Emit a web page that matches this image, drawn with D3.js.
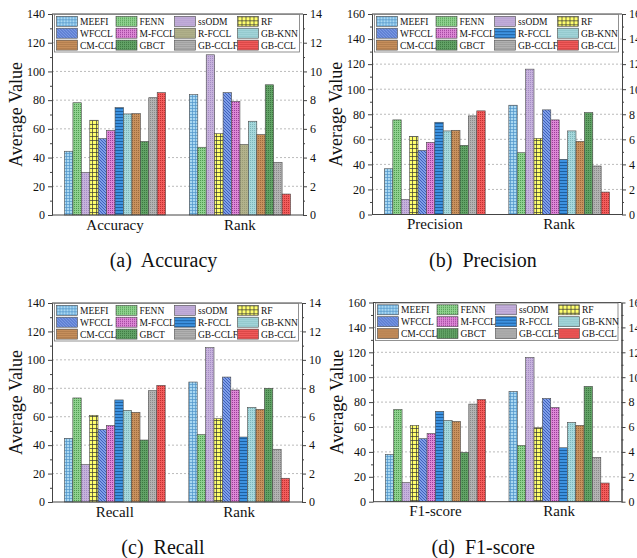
<!DOCTYPE html>
<meta charset="utf-8">
<style>
body { margin: 0; background: #fff; }
svg text { font-family: "Liberation Serif", "Times New Roman", serif; fill: #111; }
.axis path, .axis line { stroke: #444; }
.axis text { font-size: 12px; font-family: "Liberation Serif", "Times New Roman", serif; }
.grid line { stroke: #bbb; stroke-dasharray: 2,2; }
</style>

<svg id="fig" width="637" height="558"></svg>

<script src="https://d3js.org/d3.v7.min.js"></script>
<script>

// ---- data ----
var methods = ["MEEFI", "FENN", "ssODM", "RF", "WFCCL", "M-FCCL",
               "R-FCCL", "GB-KNN", "CM-CCL", "GBCT", "GB-CCLF", "GB-CCL"];

var accuracyValues  = [44.4, 78.2, 29.6, 66.0, 53.2, 58.8, 74.8, 70.4, 70.6, 51.2, 81.7, 85.2];
var accuracyRanks   = [8.38, 4.72, 11.16, 5.67, 8.52, 7.92, 4.91, 6.53, 5.60, 9.07, 3.66, 1.46];
var precisionValues = [36.5, 75.5, 12.0, 62.4, 51.2, 57.6, 73.6, 66.7, 67.2, 55.2, 78.7, 82.7];
var precisionRanks  = [8.72, 4.93, 11.60, 6.08, 8.35, 7.55, 4.40, 6.67, 5.84, 8.13, 3.87, 1.79];
var recallValues    = [44.8, 73.2, 26.3, 61.0, 51.1, 53.9, 71.8, 64.5, 63.1, 43.6, 78.3, 82.1];
var recallRanks     = [8.44, 4.74, 10.86, 5.86, 8.79, 7.88, 4.57, 6.66, 6.52, 8.00, 3.71, 1.67];
var f1Values        = [38.0, 74.1, 15.3, 61.3, 50.6, 54.8, 72.5, 65.3, 64.5, 39.6, 78.4, 82.1];
var f1Ranks         = [8.86, 4.52, 11.59, 5.94, 8.29, 7.57, 4.33, 6.37, 6.13, 9.26, 3.56, 1.50];

var leftTicks140  = [0, 20, 40, 60, 80, 100, 120, 140];
var rightTicks14  = [0, 2, 4, 6, 8, 10, 12, 14];
var leftTicks160  = [0, 20, 40, 60, 80, 100, 120, 140, 160];
var rightTicks16  = [0, 2, 4, 6, 8, 10, 12, 14, 16];

// ---- bar fill styles ----
var styles = {
  "MEEFI":   {bg: "#a9d8f2", fg: "#4f94c8", kind: "grid", s: 3},
  "FENN":    {bg: "#8fd18f", fg: "#4f9a4f", kind: "dots", s: 2},
  "ssODM":   {bg: "#c6b2dc", fg: "#a58cc4", kind: "dots", s: 2},
  "RF":      {bg: "#ffff6e", fg: "#333333", kind: "grid", s: 4},
  "WFCCL":   {bg: "#7f9fe8", fg: "#2f4fb0", kind: "diag", s: 3},
  "M-FCCL":  {bg: "#dd88d6", fg: "#9a3c98", kind: "dots", s: 2},
  "R-FCCL":  {bg: "#3d92e0", fg: "#1a5a9a", kind: "hline", s: 3},
  "GB-KNN":  {bg: "#a6d8dc", fg: "#7cb4ba", kind: "dots", s: 2},
  "CM-CCL":  {bg: "#c8915e", fg: "#9c6a3c", kind: "dots", s: 2},
  "GBCT":    {bg: "#62a266", fg: "#3c7840", kind: "dots", s: 2},
  "GB-CCLF": {bg: "#b3b3b3", fg: "#8a8a8a", kind: "dots", s: 2},
  "GB-CCL":  {bg: "#f25c5c", fg: "#c23030", kind: "dots", s: 2},
  "R-FCCL-olive": {bg: "#b2b28c", fg: "#9a9a76", kind: "dots", s: 2}
};

var svg = d3.select("#fig");
var defs = svg.append("defs");

function patId(name) { return "pat-" + name.replace(/[^a-zA-Z0-9]/g, ""); }

Object.keys(styles).forEach(function(name) {
  var st = styles[name];
  var p = defs.append("pattern")
    .attr("id", patId(name))
    .attr("patternUnits", "userSpaceOnUse")
    .attr("width", st.s).attr("height", st.s);
  p.append("rect").attr("width", st.s).attr("height", st.s).attr("fill", st.bg);
  if (st.kind === "grid") {
    p.append("path")
      .attr("d", "M0,0.5H" + st.s + "M0.5,0V" + st.s)
      .attr("stroke", st.fg).attr("stroke-width", 0.7);
  } else if (st.kind === "diag") {
    var s = st.s;
    p.append("path")
      .attr("d", "M0,0L" + s + "," + s + "M-1," + (s - 1) + "L1," + (s + 1) + "M" + (s - 1) + ",-1L" + (s + 1) + ",1")
      .attr("stroke", st.fg).attr("stroke-width", 0.8);
  } else if (st.kind === "hline") {
    p.append("path")
      .attr("d", "M0,0.5H" + st.s)
      .attr("stroke", st.fg).attr("stroke-width", 0.9);
  } else {
    p.append("rect").attr("width", 1).attr("height", 1).attr("fill", st.fg);
  }
});

// ---- panels ----
var panels = [
  {left: 52, right: 303, top: 14, bottom: 215, lmax: 140, rmax: 14,
   lticks: leftTicks140, rticks: rightTicks14, metric: "Accuracy", caption: "(a)  Accuracy",
   values: accuracyValues, ranks: accuracyRanks, olive: true},
  {left: 372, right: 622, top: 14, bottom: 214.5, lmax: 160, rmax: 16,
   lticks: leftTicks160, rticks: rightTicks16, metric: "Precision", caption: "(b)  Precision",
   values: precisionValues, ranks: precisionRanks, olive: false},
  {left: 52, right: 302, top: 303, bottom: 502, lmax: 140, rmax: 14,
   lticks: leftTicks140, rticks: rightTicks14, metric: "Recall", caption: "(c)  Recall",
   values: recallValues, ranks: recallRanks, olive: false},
  {left: 373, right: 621.5, top: 302.5, bottom: 501.7, lmax: 160, rmax: 16,
   lticks: leftTicks160, rticks: rightTicks16, metric: "F1-score", caption: "(d)  F1-score",
   values: f1Values, ranks: f1Ranks, olive: false}
];

panels.forEach(drawPanel);

function drawPanel(cfg) {
  var g = svg.append("g");

  var yLeft = d3.scaleLinear().domain([0, cfg.lmax]).range([cfg.bottom, cfg.top]);
  var yRight = d3.scaleLinear().domain([0, cfg.rmax]).range([cfg.bottom, cfg.top]);

  var groups = [cfg.metric, "Rank"];
  var xGroup = d3.scaleBand().domain(groups)
    .range([cfg.left, cfg.right])
    .paddingInner(0.19).paddingOuter(0.1);
  var xBar = d3.scaleBand().domain(methods).range([0, xGroup.bandwidth()]);

  // grid
  g.append("g").attr("class", "grid")
    .selectAll("line")
    .data(cfg.lticks.filter(function(t) { return t > 0 && t < cfg.lmax; }))
    .enter().append("line")
      .attr("x1", cfg.left).attr("x2", cfg.right)
      .attr("y1", function(t) { return yLeft(t); })
      .attr("y2", function(t) { return yLeft(t); });

  // bars
  var series = [
    {group: cfg.metric, vals: cfg.values, scale: yLeft},
    {group: "Rank", vals: cfg.ranks, scale: yRight}
  ];
  series.forEach(function(sr) {
    g.append("g").selectAll("rect")
      .data(methods)
      .enter().append("rect")
        .attr("x", function(m) { return xGroup(sr.group) + xBar(m); })
        .attr("width", xBar.bandwidth())
        .attr("y", function(m, i) { return sr.scale(sr.vals[i]); })
        .attr("height", function(m, i) { return cfg.bottom - sr.scale(sr.vals[i]); })
        .attr("fill", function(m) {
          var name = (m === "R-FCCL" && cfg.olive && sr.group === "Rank") ? "R-FCCL-olive" : m;
          return "url(#" + patId(name) + ")";
        })
        .attr("stroke", "#4a4a4a")
        .attr("stroke-width", 0.6);
  });

  // axes
  var minorL = d3.range(10, cfg.lmax, 20);
  var minorR = d3.range(1, cfg.rmax, 2);

  g.append("g").attr("class", "axis")
    .attr("transform", "translate(" + cfg.left + ",0)")
    .call(d3.axisLeft(yLeft).tickValues(cfg.lticks).tickSize(4).tickSizeOuter(0).tickPadding(3));
  g.append("g").attr("class", "axis")
    .attr("transform", "translate(" + cfg.left + ",0)")
    .call(d3.axisLeft(yLeft).tickValues(minorL).tickSize(2).tickSizeOuter(0).tickFormat(""));
  g.append("g").attr("class", "axis")
    .attr("transform", "translate(" + cfg.right + ",0)")
    .call(d3.axisRight(yRight).tickValues(cfg.rticks).tickSize(4).tickSizeOuter(0).tickPadding(3));
  g.append("g").attr("class", "axis")
    .attr("transform", "translate(" + cfg.right + ",0)")
    .call(d3.axisRight(yRight).tickValues(minorR).tickSize(2).tickSizeOuter(0).tickFormat(""));

  // frame top / bottom
  g.append("line").attr("x1", cfg.left).attr("x2", cfg.right)
    .attr("y1", cfg.bottom).attr("y2", cfg.bottom).attr("stroke", "#444");
  g.append("line").attr("x1", cfg.left).attr("x2", cfg.right)
    .attr("y1", cfg.top).attr("y2", cfg.top).attr("stroke", "#444");

  // category labels
  g.selectAll("text.cat")
    .data(groups)
    .enter().append("text")
      .attr("class", "cat")
      .attr("x", function(d) { return xGroup(d) + xGroup.bandwidth() / 2; })
      .attr("y", cfg.bottom + 14.5)
      .attr("text-anchor", "middle")
      .style("font-size", "15px")
      .text(function(d) { return d; });

  // y label
  g.append("text")
    .attr("transform", "translate(" + (cfg.left - 30) + "," + ((cfg.top + cfg.bottom) / 2) + ") rotate(-90)")
    .attr("text-anchor", "middle")
    .style("font-size", "18px")
    .text("Average Value");

  // caption
  g.append("text")
    .attr("x", (cfg.left + cfg.right) / 2 - 14)
    .attr("y", cfg.bottom + 52)
    .attr("text-anchor", "middle")
    .style("font-size", "20px")
    .style("white-space", "pre")
    .text(cfg.caption);

  // legend
  var lx = cfg.left + 2.5, ly = cfg.top + 0.5;
  var lw = cfg.right - cfg.left - 6, lh = 37.5;
  var leg = g.append("g").attr("transform", "translate(" + lx + "," + ly + ")");
  leg.append("rect").attr("width", lw).attr("height", lh)
    .attr("fill", "#fff").attr("stroke", "#777").attr("stroke-width", 0.8);
  var colX = [2, 61.5, 120, 183];
  var items = leg.selectAll("g.item")
    .data(methods)
    .enter().append("g")
      .attr("class", "item")
      .attr("transform", function(m, i) {
        return "translate(" + colX[i % 4] + "," + (1.8 + Math.floor(i / 4) * 11.9) + ")";
      });
  items.append("rect")
    .attr("width", 21).attr("height", 10)
    .attr("fill", function(m) {
      var name = (m === "R-FCCL" && cfg.olive) ? "R-FCCL-olive" : m;
      return "url(#" + patId(name) + ")";
    })
    .attr("stroke", "#4a4a4a").attr("stroke-width", 0.6);
  items.append("text")
    .attr("x", 23.5).attr("y", 8.6)
    .style("font-size", "9.5px")
    .text(function(m) { return m; });
}

</script>
